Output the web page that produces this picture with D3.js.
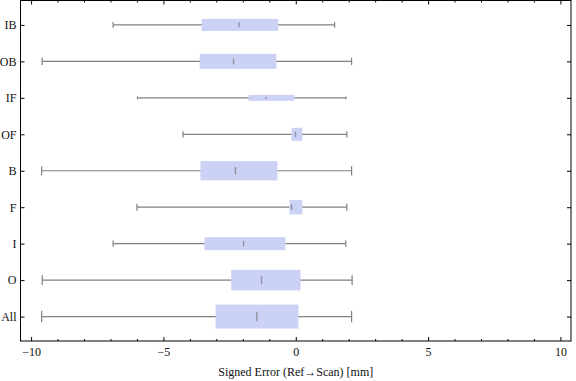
<!DOCTYPE html>
<meta charset='utf-8'>
<head>
  <title>Signed error box-whisker</title>
</head>

<style>
body {
  margin: 0;
  background: white;
}

text {
  font-family: "Liberation Serif", "DejaVu Serif", serif;
  font-size: 12px;
  fill: #111;
}

.axis path {
  stroke: none;
}

.axis line {
  stroke: black;
  stroke-width: 1;
}

.frame {
  fill: none;
  stroke: black;
  stroke-width: 1;
}

.whisker {
  stroke: #808080;
  stroke-width: 1.2;
}

.box {
  fill: #ccd2f5;
}

.median {
  stroke: #8a8a99;
  stroke-width: 1.4;
  opacity: 0.9;
}
</style>

<body>
  <svg width='576' height='381'></svg>

  <script src='https://cdn.jsdelivr.net/npm/d3@7'></script>
  <script>
// categories top -> bottom
var categories = ['IB', 'OB', 'IF', 'OF', 'B', 'F', 'I', 'O', 'All'];

// five-number summaries [mm]
var whiskerLo = [-6.9, -9.58, -5.98, -4.26, -9.6, -6.0, -6.9, -9.58, -9.6];
var q1        = [-3.56, -3.63, -1.78, -0.16, -3.6, -0.24, -3.45, -2.44, -3.03];
var medians   = [-2.14, -2.35, -1.13, -0.01, -2.28, -0.16, -1.97, -1.29, -1.47];
var q3        = [-0.66, -0.73, -0.05, 0.25, -0.69, 0.25, -0.39, 0.18, 0.10];
var whiskerHi = [1.47, 2.11, 1.9, 1.93, 2.11, 1.93, 1.89, 2.13, 2.11];

// relative sample sizes (box thickness ~ sqrt(n))
var counts = [144, 225, 36, 169, 370, 205, 170, 420, 576];

var xMajor = [-10, -5, 0, 5, 10];
var xMinor = d3.range(-10, 11, 1).filter(function(d) { return d % 5 !== 0; });

var margin = {top: 0.5, right: 5, bottom: 40, left: 20.5};
var width = 576 - margin.left - margin.right,
    height = 381 - margin.top - margin.bottom;

var svg = d3.select('svg');
var g = svg.append('g')
  .attr('transform', 'translate(' + margin.left + ',' + margin.top + ')');

var x = d3.scaleLinear().domain([-10.4, 10.4]).range([0, width]);
var y = d3.scalePoint().domain(categories).range([0, height]).padding(0.67);
var thick = d3.scaleSqrt().domain([0, 576]).range([0, 24]);

var rows = categories.map(function(c, i) {
  return {
    cat: c, lo: whiskerLo[i], q1: q1[i], med: medians[i],
    q3: q3[i], hi: whiskerHi[i], h: thick(counts[i])
  };
});

// axes
function drawX(axisFn, ticks, size, labels, ty) {
  var a = g.append('g')
    .attr('class', 'axis')
    .attr('transform', 'translate(0,' + ty + ')')
    .call(axisFn(x).tickValues(ticks).tickSizeInner(-size).tickSizeOuter(0)
      .tickPadding(6).tickFormat(labels ? d3.format('d') : ''));
  a.selectAll('text').attr('fill', '#111').style('font-size', '12px');
  return a;
}
drawX(d3.axisBottom, xMajor, 4, true, height);
drawX(d3.axisBottom, xMinor, 2, false, height);
drawX(d3.axisTop, xMajor, 4, false, 0);
drawX(d3.axisTop, xMinor, 2, false, 0);

var yl = g.append('g')
  .attr('class', 'axis')
  .call(d3.axisLeft(y).tickSizeInner(-4).tickSizeOuter(0).tickPadding(4));
yl.selectAll('text').attr('fill', '#111').style('font-size', '12px');

g.append('g')
  .attr('class', 'axis')
  .attr('transform', 'translate(' + width + ',0)')
  .call(d3.axisRight(y).tickSizeInner(-4).tickSizeOuter(0).tickFormat(''));

// boxes
var item = g.selectAll('g.item')
  .data(rows)
  .enter()
  .append('g')
  .attr('class', 'item')
  .attr('transform', function(d) { return 'translate(0,' + y(d.cat) + ')'; });

item.append('line')
  .attr('class', 'whisker')
  .attr('x1', function(d) { return x(d.lo); })
  .attr('x2', function(d) { return x(d.hi); });

item.append('line')
  .attr('class', 'whisker')
  .attr('x1', function(d) { return x(d.lo); })
  .attr('x2', function(d) { return x(d.lo); })
  .attr('y1', function(d) { return -d.h * 0.24; })
  .attr('y2', function(d) { return d.h * 0.24; });

item.append('line')
  .attr('class', 'whisker')
  .attr('x1', function(d) { return x(d.hi); })
  .attr('x2', function(d) { return x(d.hi); })
  .attr('y1', function(d) { return -d.h * 0.24; })
  .attr('y2', function(d) { return d.h * 0.24; });

item.append('rect')
  .attr('class', 'box')
  .attr('x', function(d) { return x(d.q1); })
  .attr('width', function(d) { return x(d.q3) - x(d.q1); })
  .attr('y', function(d) { return -d.h / 2; })
  .attr('height', function(d) { return d.h; });

item.append('line')
  .attr('class', 'median')
  .attr('x1', function(d) { return x(d.med); })
  .attr('x2', function(d) { return x(d.med); })
  .attr('y1', function(d) { return -d.h * 0.2; })
  .attr('y2', function(d) { return d.h * 0.2; });

// frame
g.append('rect')
  .attr('class', 'frame')
  .attr('width', width)
  .attr('height', height);

// axis title
g.append('text')
  .attr('x', width / 2)
  .attr('y', height + 35)
  .attr('text-anchor', 'middle')
  .text('Signed Error (Ref\u2192Scan) [mm]');
  </script>
</body>
</html>
